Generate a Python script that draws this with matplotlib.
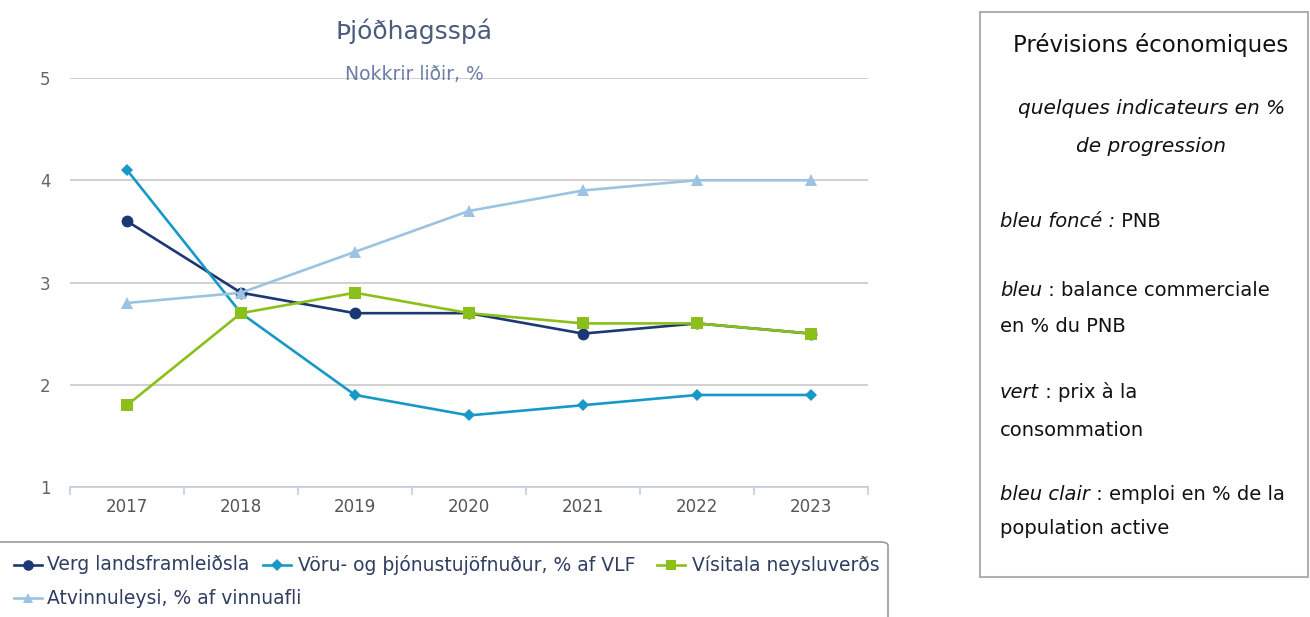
import matplotlib
matplotlib.use("Agg")
import matplotlib.pyplot as plt
from matplotlib.lines import Line2D
from matplotlib.patches import FancyBboxPatch, Rectangle

years = ["2017", "2018", "2019", "2020", "2021", "2022", "2023"]
vlf = [3.6, 2.9, 2.7, 2.7, 2.5, 2.6, 2.5]
jofnudur = [4.1, 2.7, 1.9, 1.7, 1.8, 1.9, 1.9]
neysluverd = [1.8, 2.7, 2.9, 2.7, 2.6, 2.6, 2.5]
atvinnuleysi = [2.8, 2.9, 3.3, 3.7, 3.9, 4.0, 4.0]
series_names = ["Verg landsframleiðsla", "Vöru- og þjónustujöfnuður, % af VLF",
                "Vísitala neysluverðs", "Atvinnuleysi, % af vinnuafli"]
y_ticks = [1, 2, 3, 4, 5]

W, H = 1310, 617
plt.rcParams['font.family'] = ['DejaVu Sans']

fig = plt.figure(figsize=(W / 100, H / 100), dpi=100)


def px(x, y):
    # pixel position (from top-left) to figure fraction
    return x / W, 1 - y / H


ax = fig.add_axes([70 / W, 1 - 487 / H, (868 - 70) / W, (487 - 78) / H])

styles = [
    dict(color="#1c3874", marker="o", ms=8.5),
    dict(color="#1898c6", marker="D", ms=6.5),
    dict(color="#8bbf1a", marker="s", ms=8.5),
    dict(color="#9dc3e2", marker="^", ms=8.5),
]
data = [vlf, jofnudur, neysluverd, atvinnuleysi]
x = list(range(len(years)))
for vals, st in zip(data, styles):
    ax.plot(x, vals, color=st["color"], marker=st["marker"], ms=st["ms"],
            lw=1.9, markeredgewidth=0, clip_on=False)

ax.set_xlim(-0.5, len(years) - 0.5)
ax.set_ylim(1, 5)
ax.set_yticks(y_ticks)
ax.set_xticks(x)
ax.set_xticklabels(years)
ax.set_xticks([i - 0.5 for i in range(len(years) + 1)], minor=True)
ax.tick_params(axis="x", which="major", length=0, pad=8, labelsize=12,
               labelcolor="#555555")
ax.tick_params(axis="x", which="minor", length=6, color="#c0d0e0", width=1.2)
ax.tick_params(axis="y", length=0, pad=14, labelsize=12, labelcolor="#666666")
for lab in ax.get_yticklabels():
    lab.set_horizontalalignment("right")
ax.grid(axis="y", color="#c8c8c8", lw=1.2)
ax.set_axisbelow(True)
for s in ["top", "right", "left"]:
    ax.spines[s].set_visible(False)
ax.spines["bottom"].set_color("#c0d0e0")
ax.spines["bottom"].set_linewidth(1.2)
ax.spines["bottom"].set_zorder(0.5)

fig.text(*px(414, 31), "Þjóðhagsspá", ha="center", va="center",
         fontsize=18, color="#4a5c7c")
fig.text(*px(414, 75), "Nokkrir liðir, %", ha="center", va="center",
         fontsize=13.5, color="#6b7ea6")

# legend box
fig.add_artist(FancyBboxPatch(px(-20, 640), (888 + 20) / W, (640 - 542) / H,
                              boxstyle="round,pad=0,rounding_size=0.006",
                              transform=fig.transFigure, fc="white",
                              ec="#999999", lw=1.2))
legend_pos = [(28, 565, 47), (277, 565, 298), (671, 565, 692), (28, 598, 47)]
for (mx, my, tx), name, st in zip(legend_pos, series_names, styles):
    x0, y0 = px(mx - 14, my)
    x1, _ = px(mx + 14, my)
    fig.add_artist(Line2D([x0, x1], [y0, y0], color=st["color"], lw=1.9,
                          transform=fig.transFigure))
    xm, ym = px(mx, my)
    fig.add_artist(Line2D([xm], [ym], color=st["color"], marker=st["marker"],
                          ms=st["ms"] * 0.9, markeredgewidth=0,
                          transform=fig.transFigure))
    fig.text(*px(tx, my), name, ha="left", va="center", fontsize=13.5,
             color="#2f3d62")

# right side note box
fig.add_artist(Rectangle(px(980, 577), (1308 - 980) / W, (577 - 12) / H,
                         transform=fig.transFigure, fc="white",
                         ec="#b0b0b0", lw=1.5))
fig.text(*px(1151, 45), "Prévisions économiques", ha="center", va="center",
         fontsize=16.5, color="#111111")
fig.text(*px(1152, 109), "quelques indicateurs en %", ha="center", va="center",
         fontsize=14.5, style="italic", color="#111111")
fig.text(*px(1151, 146), "de progression", ha="center", va="center",
         fontsize=14.5, style="italic", color="#111111")

note_lines = [
    (221, "bleu foncé :", " PNB"),
    (290, "bleu", " : balance commerciale"),
    (327, "", "en % du PNB"),
    (392, "vert", " : prix à la"),
    (430, "", "consommation"),
    (494, "bleu clair", " : emploi en % de la"),
    (528, "", "population active"),
]
renderer = fig.canvas.get_renderer()
for ypos, ital, rest in note_lines:
    xstart = 1000 / W
    if ital:
        t = fig.text(*px(1000, ypos), ital, ha="left", va="center",
                     fontsize=14, style="italic", color="#111111")
        bb = t.get_window_extent(renderer)
        xstart = bb.x1 / W
    fig.text(xstart, px(0, ypos)[1], rest, ha="left", va="center",
             fontsize=14, color="#111111")

fig.savefig("out.png", dpi=100)
